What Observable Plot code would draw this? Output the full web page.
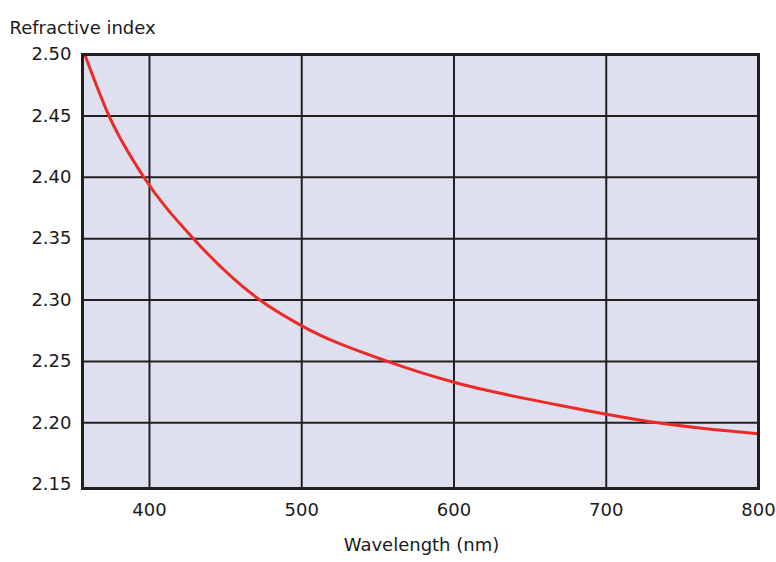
<!DOCTYPE html>
<html>
<head>
<meta charset="utf-8">
<script src="https://cdn.jsdelivr.net/npm/d3@7"></script>
<script src="https://cdn.jsdelivr.net/npm/@observablehq/plot@0.6"></script>
<style>
  html, body { margin: 0; padding: 0; background: #ffffff; }
  #chart svg { display: block; }
</style>
</head>
<body>
<div id="chart"></div>
<script>
// Data
const wavelength = [357.5, 373.4, 396.3, 428.9, 472.5, 500, 556.3, 600, 668.5, 700, 733.8, 800];
const refractiveIndex = [2.500, 2.450, 2.400, 2.350, 2.300, 2.279, 2.250, 2.233, 2.2145, 2.207, 2.200, 2.191];

const xTicks = [400, 500, 600, 700, 800];
const yTicks = [2.15, 2.20, 2.25, 2.30, 2.35, 2.40, 2.45, 2.50];
const xGrid = [400, 500, 600, 700];
const yGrid = [2.20, 2.25, 2.30, 2.35, 2.40, 2.45];

const yTitle = "Refractive index";
const xTitle = "Wavelength (nm)";

const data = wavelength.map((w, i) => ({ wavelength: w, n: refractiveIndex[i] }));

const font = "'DejaVu Sans', sans-serif";

const chart = Plot.plot({
  width: 776,
  height: 562,
  marginTop: 54,
  marginBottom: 74,
  marginLeft: 82,
  marginRight: 18,
  style: { fontFamily: font, fontSize: "18px", color: "#1a1a1a", background: "#ffffff" },
  x: { domain: [356, 800] },
  y: { domain: [2.1465, 2.5] },
  marks: [
    Plot.frame({ fill: "#dfe0ef", stroke: "none" }),
    Plot.gridX(xGrid, { stroke: "#231f20", strokeOpacity: 1, strokeWidth: 2 }),
    Plot.gridY(yGrid, { stroke: "#231f20", strokeOpacity: 1, strokeWidth: 2 }),
    Plot.line(data, { x: "wavelength", y: "n", stroke: "#ec2a27", strokeWidth: 3, curve: "monotone-x" }),
    Plot.frame({ stroke: "#231f20", strokeWidth: 3 }),
    Plot.axisX(xTicks, { tickSize: 0, tickPadding: 15, label: null, fontSize: 18 }),
    Plot.axisY(yTicks, { tickSize: 0, tickPadding: 11, label: null, fontSize: 18, tickFormat: d3.format(".2f") }),
    Plot.text([yTitle], { frameAnchor: "top-left", dx: -73, dy: -33, textAnchor: "start", fontSize: 18, fill: "#1a1a1a" }),
    Plot.text([xTitle], { frameAnchor: "bottom", dx: 1, dy: 62, fontSize: 18, fill: "#1a1a1a" })
  ]
});

document.getElementById("chart").appendChild(chart);
</script>
</body>
</html>
